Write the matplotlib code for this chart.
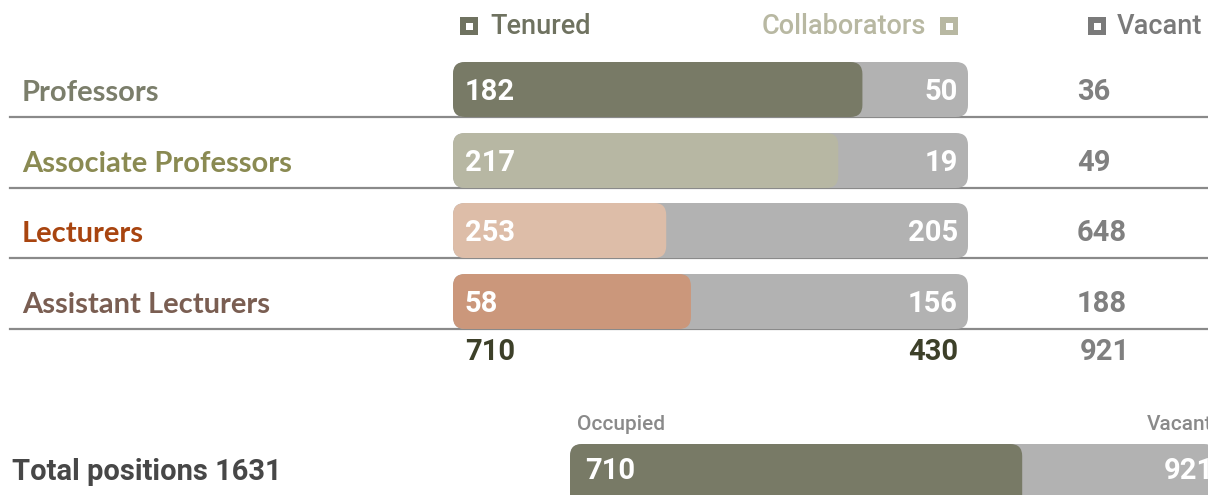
import matplotlib
matplotlib.use("Agg")
import matplotlib.pyplot as plt
from matplotlib.patches import FancyBboxPatch, Rectangle

# data
categories = ["Professors", "Associate Professors", "Lecturers", "Assistant Lecturers"]
tenured = [182, 217, 253, 58]
collaborators = [50, 19, 205, 156]
vacant = [36, 49, 648, 188]
tenured_share = [0.795, 0.748, 0.414, 0.462]   # length of the coloured part of each bar
occupied_share = 0.70                          # coloured part of the bottom bar

label_colors = ["#7b7e6b", "#8a8a52", "#a8440f", "#7a5e52"]
bar_colors = ["#787a66", "#b7b7a3", "#ddbda8", "#cb977b"]
grey = "#b2b2b2"

num_font = ["Roboto", "DejaVu Sans"]
lab_font = ["Lato", "DejaVu Sans"]

W, H = 1208, 495
fig = plt.figure(figsize=(W / 100, H / 100), dpi=100)
ax = fig.add_axes([0, 0, 1, 1])
ax.set_xlim(0, W)
ax.set_ylim(H, 0)
ax.axis("off")

bar_x0, bar_x1 = 453, 968
bar_h = 55
row_y = [90, 161, 231, 302]  # text centre of each row


def rounded(x, y, w, h, color, r=12):
    p = FancyBboxPatch((x + r, y + r), max(w - 2 * r, 0.1), h - 2 * r,
                       boxstyle=f"round,pad={r}", fc=color, ec="none", zorder=2)
    ax.add_patch(p)


def legend_square(x, y, color):
    ax.add_patch(Rectangle((x, y - 9), 18, 18, fc=color, ec="none"))
    ax.add_patch(Rectangle((x + 5.5, y - 3.5), 7, 7, fc="white", ec="none"))


# legend
legend_square(460, 26, "#6f7260")
ax.text(490, 27, "Tenured", color="#6f7260", fontsize=19.5, family=num_font,
        fontweight="medium", va="center", ha="left")
legend_square(940, 26, "#b8b8a2")
ax.text(926, 27, "Collaborators", color="#b8b8a2", fontsize=19.5, family=num_font,
        fontweight="medium", va="center", ha="right")
legend_square(1088, 26, "#7a7a7a")
ax.text(1117, 27, "Vacant", color="#7a7a7a", fontsize=19.5, family=num_font,
        fontweight="medium", va="center", ha="left")

for i, cat in enumerate(categories):
    yc = row_y[i]
    top = yc - 28
    line_y = top + bar_h
    ax.plot([10, W], [line_y, line_y], color="#8a8a8a", lw=1.6, zorder=1)
    ax.text(22, yc + 3, cat, color=label_colors[i], fontsize=21, family=lab_font,
            fontweight="bold", va="center", ha="left")
    rounded(bar_x0, top, bar_x1 - bar_x0, bar_h, grey)
    rounded(bar_x0, top, (bar_x1 - bar_x0) * tenured_share[i], bar_h, bar_colors[i])
    ax.text(465, yc + 2, str(tenured[i]), color="white", fontsize=21, family=num_font,
            fontweight="bold", va="center", ha="left", zorder=3)
    ax.text(958, yc + 2, str(collaborators[i]), color="white", fontsize=21, family=num_font,
            fontweight="bold", va="center", ha="right", zorder=3)
    ax.text(1077, yc + 2, str(vacant[i]), color="#808080", fontsize=21, family=num_font,
            fontweight="bold", va="center", ha="left", zorder=3)

# totals
ty = 352
ax.text(465, ty, str(sum(tenured)), color="#3d4029", fontsize=21, family=num_font,
        fontweight="bold", va="center", ha="left")
ax.text(958, ty, str(sum(collaborators)), color="#3d4029", fontsize=21, family=num_font,
        fontweight="bold", va="center", ha="right")
ax.text(1080, ty, str(sum(vacant)), color="#808080", fontsize=21, family=num_font,
        fontweight="bold", va="center", ha="left")

# bottom summary bar
occupied = sum(tenured)
vac_total = sum(vacant)
ax.text(12, 472, f"Total positions {occupied + vac_total}", color="#474747", fontsize=21,
        family=num_font, fontweight="bold", va="center", ha="left")
bx0, bx1 = 570, 1216
ax.text(577, 425, "Occupied", color="#8a8a8a", fontsize=15, family=num_font,
        fontweight="medium", va="center", ha="left")
ax.text(1212, 425, "Vacant", color="#8a8a8a", fontsize=15, family=num_font,
        fontweight="medium", va="center", ha="right")
rounded(bx0, 444, bx1 - bx0, 70, grey)
rounded(bx0, 444, (bx1 - bx0) * occupied_share, 70, "#787a66")
ax.text(585, 471, str(occupied), color="white", fontsize=21, family=num_font,
        fontweight="bold", va="center", ha="left", zorder=3)
ax.text(1214, 471, str(vac_total), color="white", fontsize=21, family=num_font,
        fontweight="bold", va="center", ha="right", zorder=3)

fig.savefig("out.png", dpi=100)
